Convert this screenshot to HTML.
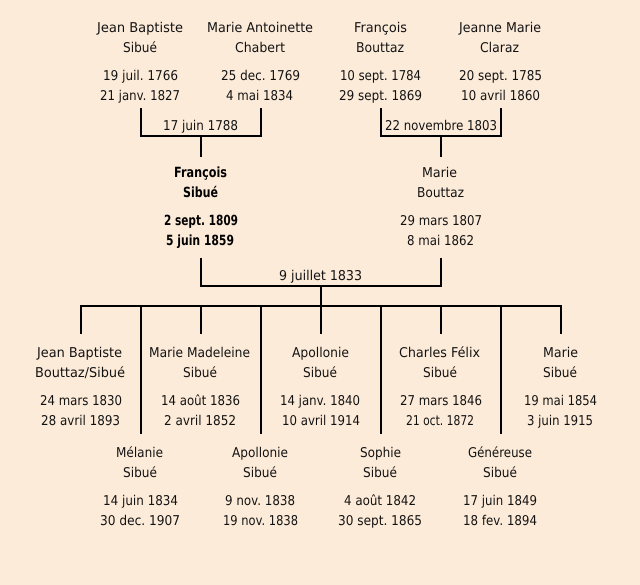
<!DOCTYPE html>
<html>
<head>
<meta charset="utf-8">
<style>
html,body{margin:0;padding:0;background:#fdebd9;}
svg{display:block;}
text{font-family:"DejaVu Sans","Liberation Sans",sans-serif;font-size:13.5px;fill:#111;text-rendering:geometricPrecision;}
.b{font-weight:bold;font-size:14px;fill:#000;}
</style>
</head>
<body>
<svg width="640" height="585" viewBox="0 0 640 585" xmlns="http://www.w3.org/2000/svg">
<rect width="640" height="585" fill="#fdebd9"/>
<g fill="#000">
<rect x="140" y="108" width="2" height="29"/><rect x="260" y="108" width="2" height="29"/><rect x="140" y="135" width="122" height="2"/><rect x="200" y="137" width="2" height="20"/>
<rect x="380" y="108" width="2" height="29"/><rect x="500" y="108" width="2" height="29"/><rect x="380" y="135" width="122" height="2"/><rect x="440" y="137" width="2" height="20"/>
<rect x="200" y="258" width="2" height="29"/><rect x="440" y="258" width="2" height="29"/><rect x="200" y="285" width="242" height="2"/>
<rect x="80" y="305" width="482" height="2"/>
<rect x="320" y="287" width="2" height="47"/>
<rect x="80" y="307" width="2" height="27"/><rect x="200" y="307" width="2" height="27"/><rect x="440" y="307" width="2" height="27"/><rect x="560" y="307" width="2" height="27"/>
<rect x="140" y="307" width="2" height="127"/><rect x="260" y="307" width="2" height="127"/><rect x="380" y="307" width="2" height="127"/><rect x="500" y="307" width="2" height="127"/>
</g>
<g>
<text x="97" y="32" textLength="86" lengthAdjust="spacingAndGlyphs">Jean Baptiste</text>
<text x="123" y="52" textLength="34" lengthAdjust="spacingAndGlyphs">Sibué</text>
<text x="103" y="80" textLength="75" lengthAdjust="spacingAndGlyphs">19 juil. 1766</text>
<text x="100" y="100" textLength="80" lengthAdjust="spacingAndGlyphs">21 janv. 1827</text>
<text x="207" y="32" textLength="106" lengthAdjust="spacingAndGlyphs">Marie Antoinette</text>
<text x="235" y="52" textLength="50" lengthAdjust="spacingAndGlyphs">Chabert</text>
<text x="221" y="80" textLength="79" lengthAdjust="spacingAndGlyphs">25 dec. 1769</text>
<text x="226" y="100" textLength="67" lengthAdjust="spacingAndGlyphs">4 mai 1834</text>
<text x="163" y="130" textLength="75" lengthAdjust="spacingAndGlyphs">17 juin 1788</text>
<text x="354" y="32" textLength="53" lengthAdjust="spacingAndGlyphs">François</text>
<text x="356" y="52" textLength="48" lengthAdjust="spacingAndGlyphs">Bouttaz</text>
<text x="340" y="80" textLength="81" lengthAdjust="spacingAndGlyphs">10 sept. 1784</text>
<text x="339" y="100" textLength="83" lengthAdjust="spacingAndGlyphs">29 sept. 1869</text>
<text x="459" y="32" textLength="82" lengthAdjust="spacingAndGlyphs">Jeanne Marie</text>
<text x="480" y="52" textLength="39" lengthAdjust="spacingAndGlyphs">Claraz</text>
<text x="459" y="80" textLength="83" lengthAdjust="spacingAndGlyphs">20 sept. 1785</text>
<text x="461" y="100" textLength="79" lengthAdjust="spacingAndGlyphs">10 avril 1860</text>
<text x="385" y="130" textLength="112" lengthAdjust="spacingAndGlyphs">22 novembre 1803</text>
<text class="b" x="174" y="177" textLength="53" lengthAdjust="spacingAndGlyphs">François</text>
<text class="b" x="183" y="197" textLength="35" lengthAdjust="spacingAndGlyphs">Sibué</text>
<text class="b" x="164" y="225" textLength="74" lengthAdjust="spacingAndGlyphs">2 sept. 1809</text>
<text class="b" x="166" y="245" textLength="68" lengthAdjust="spacingAndGlyphs">5 juin 1859</text>
<text x="422" y="177" textLength="35" lengthAdjust="spacingAndGlyphs">Marie</text>
<text x="417" y="197" textLength="47" lengthAdjust="spacingAndGlyphs">Bouttaz</text>
<text x="400" y="225" textLength="82" lengthAdjust="spacingAndGlyphs">29 mars 1807</text>
<text x="407" y="245" textLength="67" lengthAdjust="spacingAndGlyphs">8 mai 1862</text>
<text x="279" y="280" textLength="83" lengthAdjust="spacingAndGlyphs">9 juillet 1833</text>
<text x="37" y="357" textLength="85" lengthAdjust="spacingAndGlyphs">Jean Baptiste</text>
<text x="35" y="377" textLength="90" lengthAdjust="spacingAndGlyphs">Bouttaz/Sibué</text>
<text x="40" y="405" textLength="82" lengthAdjust="spacingAndGlyphs">24 mars 1830</text>
<text x="41" y="425" textLength="79" lengthAdjust="spacingAndGlyphs">28 avril 1893</text>
<text x="149" y="357" textLength="101" lengthAdjust="spacingAndGlyphs">Marie Madeleine</text>
<text x="183" y="377" textLength="34" lengthAdjust="spacingAndGlyphs">Sibué</text>
<text x="161" y="405" textLength="79" lengthAdjust="spacingAndGlyphs">14 août 1836</text>
<text x="164" y="425" textLength="72" lengthAdjust="spacingAndGlyphs">2 avril 1852</text>
<text x="292" y="357" textLength="57" lengthAdjust="spacingAndGlyphs">Apollonie</text>
<text x="303" y="377" textLength="34" lengthAdjust="spacingAndGlyphs">Sibué</text>
<text x="280" y="405" textLength="80" lengthAdjust="spacingAndGlyphs">14 janv. 1840</text>
<text x="282" y="425" textLength="78" lengthAdjust="spacingAndGlyphs">10 avril 1914</text>
<text x="399" y="357" textLength="81" lengthAdjust="spacingAndGlyphs">Charles Félix</text>
<text x="423" y="377" textLength="34" lengthAdjust="spacingAndGlyphs">Sibué</text>
<text x="400" y="405" textLength="82" lengthAdjust="spacingAndGlyphs">27 mars 1846</text>
<text x="406" y="425" textLength="68" lengthAdjust="spacingAndGlyphs">21 oct. 1872</text>
<text x="543" y="357" textLength="35" lengthAdjust="spacingAndGlyphs">Marie</text>
<text x="543" y="377" textLength="34" lengthAdjust="spacingAndGlyphs">Sibué</text>
<text x="524" y="405" textLength="73" lengthAdjust="spacingAndGlyphs">19 mai 1854</text>
<text x="527" y="425" textLength="66" lengthAdjust="spacingAndGlyphs">3 juin 1915</text>
<text x="116" y="457" textLength="47" lengthAdjust="spacingAndGlyphs">Mélanie</text>
<text x="123" y="477" textLength="34" lengthAdjust="spacingAndGlyphs">Sibué</text>
<text x="103" y="505" textLength="75" lengthAdjust="spacingAndGlyphs">14 juin 1834</text>
<text x="100" y="525" textLength="80" lengthAdjust="spacingAndGlyphs">30 dec. 1907</text>
<text x="232" y="457" textLength="56" lengthAdjust="spacingAndGlyphs">Apollonie</text>
<text x="243" y="477" textLength="34" lengthAdjust="spacingAndGlyphs">Sibué</text>
<text x="225" y="505" textLength="70" lengthAdjust="spacingAndGlyphs">9 nov. 1838</text>
<text x="223" y="525" textLength="75" lengthAdjust="spacingAndGlyphs">19 nov. 1838</text>
<text x="360" y="457" textLength="41" lengthAdjust="spacingAndGlyphs">Sophie</text>
<text x="363" y="477" textLength="34" lengthAdjust="spacingAndGlyphs">Sibué</text>
<text x="344" y="505" textLength="72" lengthAdjust="spacingAndGlyphs">4 août 1842</text>
<text x="338" y="525" textLength="84" lengthAdjust="spacingAndGlyphs">30 sept. 1865</text>
<text x="468" y="457" textLength="64" lengthAdjust="spacingAndGlyphs">Généreuse</text>
<text x="483" y="477" textLength="34" lengthAdjust="spacingAndGlyphs">Sibué</text>
<text x="463" y="505" textLength="74" lengthAdjust="spacingAndGlyphs">17 juin 1849</text>
<text x="463" y="525" textLength="74" lengthAdjust="spacingAndGlyphs">18 fev. 1894</text>
</g>
</svg>
</body>
</html>
